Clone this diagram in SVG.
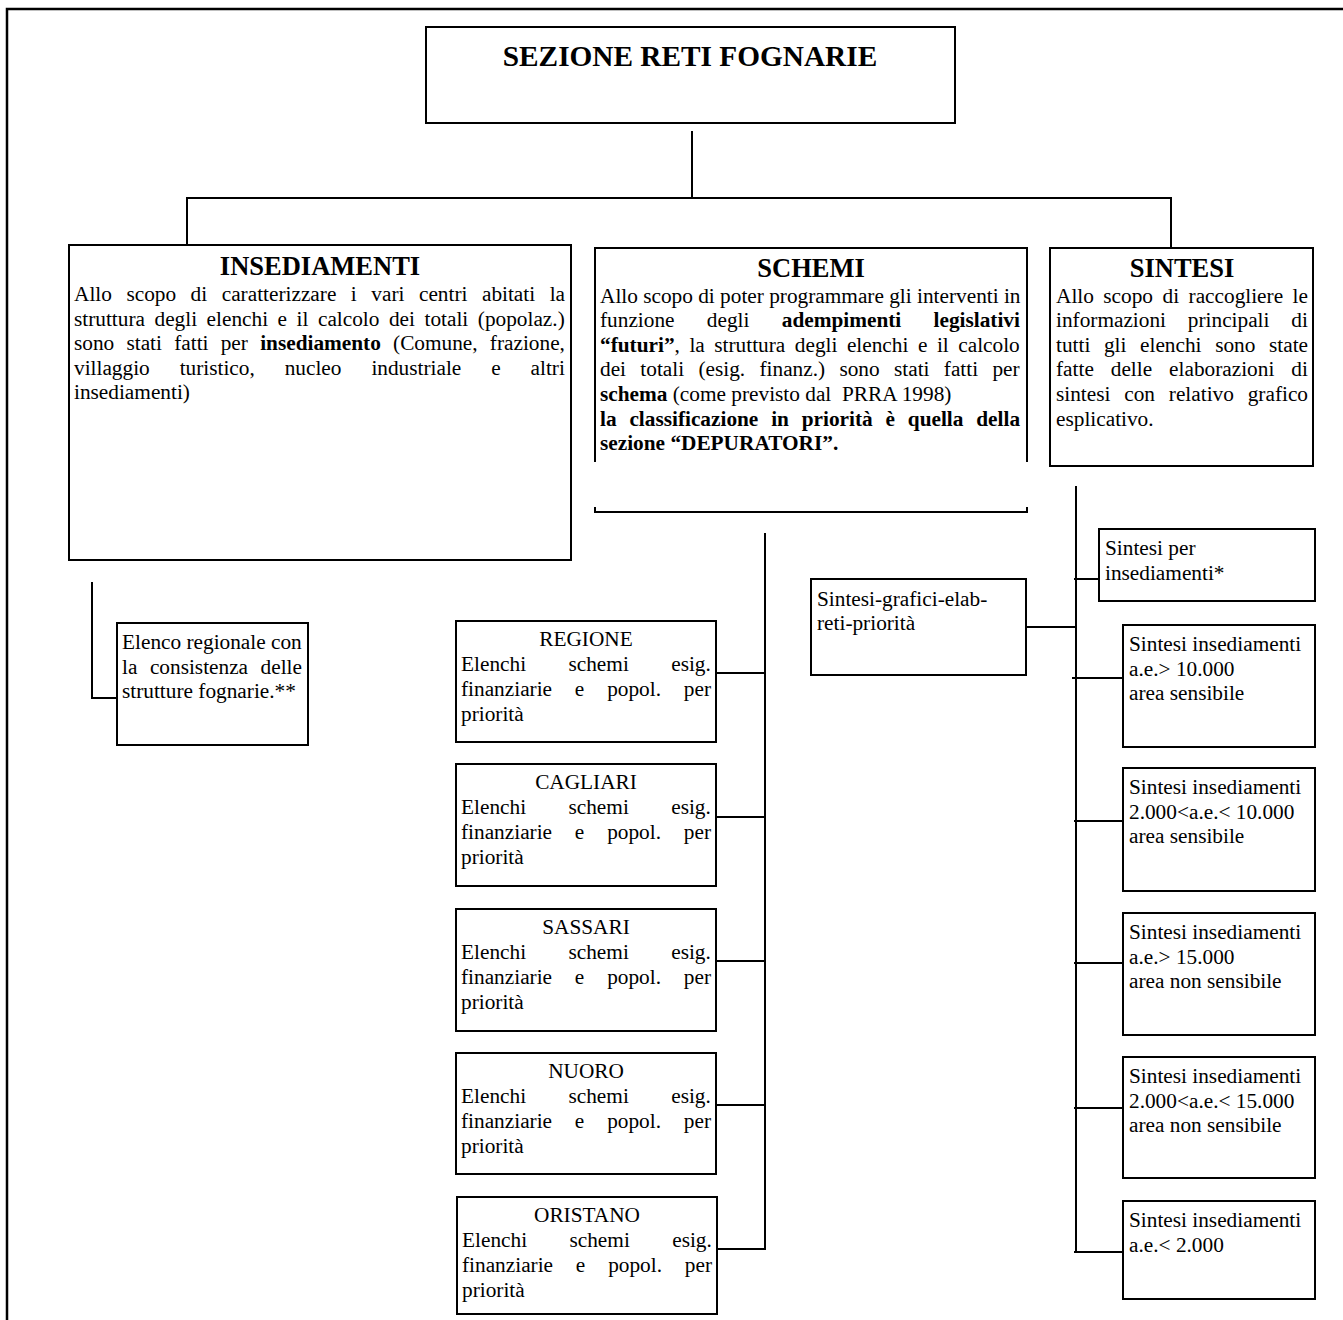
<svg xmlns="http://www.w3.org/2000/svg" width="1343" height="1320" viewBox="0 0 1343 1320">
  <style>
    .box { fill: #fff; stroke: #000; stroke-width: 2; }
    .ln { fill: none; stroke: #000; stroke-width: 2; }
    .frame { fill: none; stroke: #000; stroke-width: 2.5; }
    text { font-family: "Liberation Serif", "Times New Roman", serif; font-size: 21.3px; fill: #000; }
    .head { font-size: 26.5px; font-weight: bold; text-anchor: middle; }
    .title { font-size: 29.3px; font-weight: bold; text-anchor: middle; }
    .mid { text-anchor: middle; }
    .b { font-weight: bold; }
  </style>

  <!-- page frame -->
  <path class="frame" d="M7 1320 V9 H1343"/>

  <!-- connectors -->
  <g id="connectors">
    <path class="ln" d="M692 131 V198"/>
    <path class="ln" d="M187 247 V198 H1171 V248"/>
    <path class="ln" d="M92 582 V698 H117"/>
    <path class="ln" d="M765 533 V1250"/>
    <path class="ln" d="M716 673 H765 M716 817 H765 M716 961 H765 M716 1105 H765 M716 1249 H765"/>
    <path class="ln" d="M1076 486 V1252"/>
    <path class="ln" d="M1074 579 H1099 M1026 627 H1076"/>
    <path class="ln" d="M1072 678 H1123 M1074 821 H1123 M1074 963 H1123 M1074 1108 H1123 M1074 1252 H1123"/>
  </g>

  <g id="title">
    <rect class="box" x="426" y="27" width="529" height="96"/>
    <text class="title" x="690" y="66">SEZIONE RETI FOGNARIE</text>
  </g>

  <g id="insediamenti">
    <rect class="box" x="69" y="245" width="502" height="315"/>
    <text class="head" x="320" y="275">INSEDIAMENTI</text>
    <text x="74" y="301" style="word-spacing:9.2px">Allo scopo di caratterizzare i vari centri abitati la</text>
    <text x="74" y="325.6" style="word-spacing:4.2px">struttura degli elenchi e il calcolo dei totali (popolaz.)</text>
    <text x="74" y="350.2" style="word-spacing:6.9px">sono stati fatti per <tspan class="b">insediamento</tspan> (Comune, frazione,</text>
    <text x="74" y="374.8" style="word-spacing:24.6px">villaggio turistico, nucleo industriale e altri</text>
    <text x="74" y="399.4">insediamenti)</text>
  </g>

  <g id="schemi">
    <path class="ln" d="M595 462 V248 H1027 V462"/>
    <path class="ln" d="M595 507 V512 H1027 V507"/>
    <text class="head" x="811" y="277">SCHEMI</text>
    <text x="600" y="302.5">Allo scopo di poter programmare gli interventi in</text>
    <text x="600" y="327.1" style="word-spacing:27px">funzione degli <tspan class="b">adempimenti legislativi</tspan></text>
    <text x="600" y="351.7" style="word-spacing:4.2px"><tspan class="b">“futuri”</tspan>, la struttura degli elenchi e il calcolo</text>
    <text x="600" y="376.3" style="word-spacing:9px">dei totali (esig. finanz.) sono stati fatti per</text>
    <text x="600" y="400.9"><tspan class="b">schema</tspan> (come previsto dal&#160; PRRA 1998)</text>
    <text class="b" x="600" y="425.5" style="word-spacing:7.5px">la classificazione in priorità è quella della</text>
    <text class="b" x="600" y="450.1">sezione “DEPURATORI”.</text>
  </g>

  <g id="sintesi">
    <rect class="box" x="1050" y="248" width="263" height="218"/>
    <text class="head" x="1182" y="277">SINTESI</text>
    <text x="1056" y="302.5" style="word-spacing:4.15px">Allo scopo di raccogliere le</text>
    <text x="1056" y="327.1" style="word-spacing:16.5px">informazioni principali di</text>
    <text x="1056" y="351.7" style="word-spacing:8.3px">tutti gli elenchi sono state</text>
    <text x="1056" y="376.3" style="word-spacing:11.6px">fatte delle elaborazioni di</text>
    <text x="1056" y="400.9" style="word-spacing:8.5px">sintesi con relativo grafico</text>
    <text x="1056" y="425.5">esplicativo.</text>
  </g>

  <g id="elenco-regionale">
    <rect class="box" x="117" y="623" width="191" height="122"/>
    <text x="122" y="649">Elenco regionale con</text>
    <text x="122" y="673.5" style="word-spacing:7.2px">la consistenza delle</text>
    <text x="122" y="698">strutture fognarie.**</text>
  </g>

  <g id="regione">
    <rect class="box" x="456" y="621" width="260" height="121"/>
    <text class="mid" x="586" y="646">REGIONE</text>
    <text x="461" y="671" style="word-spacing:37.1px">Elenchi schemi esig.</text>
    <text x="461" y="696" style="word-spacing:17.5px">finanziarie e popol. per</text>
    <text x="461" y="721">priorità</text>
  </g>

  <g id="cagliari">
    <rect class="box" x="456" y="764" width="260" height="122"/>
    <text class="mid" x="586" y="789">CAGLIARI</text>
    <text x="461" y="814" style="word-spacing:37.1px">Elenchi schemi esig.</text>
    <text x="461" y="839" style="word-spacing:17.5px">finanziarie e popol. per</text>
    <text x="461" y="864">priorità</text>
  </g>

  <g id="sassari">
    <rect class="box" x="456" y="909" width="260" height="122"/>
    <text class="mid" x="586" y="934">SASSARI</text>
    <text x="461" y="959" style="word-spacing:37.1px">Elenchi schemi esig.</text>
    <text x="461" y="984" style="word-spacing:17.5px">finanziarie e popol. per</text>
    <text x="461" y="1009">priorità</text>
  </g>

  <g id="nuoro">
    <rect class="box" x="456" y="1053" width="260" height="121"/>
    <text class="mid" x="586" y="1078">NUORO</text>
    <text x="461" y="1103" style="word-spacing:37.1px">Elenchi schemi esig.</text>
    <text x="461" y="1128" style="word-spacing:17.5px">finanziarie e popol. per</text>
    <text x="461" y="1153">priorità</text>
  </g>

  <g id="oristano">
    <rect class="box" x="457" y="1197" width="260" height="117"/>
    <text class="mid" x="587" y="1222">ORISTANO</text>
    <text x="462" y="1247" style="word-spacing:37.1px">Elenchi schemi esig.</text>
    <text x="462" y="1272" style="word-spacing:17.5px">finanziarie e popol. per</text>
    <text x="462" y="1297">priorità</text>
  </g>

  <g id="sintesi-grafici">
    <rect class="box" x="811" y="579" width="215" height="96"/>
    <text x="817" y="606">Sintesi-grafici-elab-</text>
    <text x="817" y="630">reti-priorità</text>
  </g>

  <g id="sintesi-per-insediamenti">
    <rect class="box" x="1099" y="529" width="216" height="72"/>
    <text x="1105" y="555">Sintesi per</text>
    <text x="1105" y="580">insediamenti*</text>
  </g>

  <g id="sintesi-10000-sens">
    <rect class="box" x="1123" y="625" width="192" height="122"/>
    <text x="1129" y="651">Sintesi insediamenti</text>
    <text x="1129" y="675.6">a.e.&gt; 10.000</text>
    <text x="1129" y="700.2">area sensibile</text>
  </g>

  <g id="sintesi-2000-10000-sens">
    <rect class="box" x="1123" y="768" width="192" height="123"/>
    <text x="1129" y="794">Sintesi insediamenti</text>
    <text x="1129" y="818.6">2.000&lt;a.e.&lt; 10.000</text>
    <text x="1129" y="843.2">area sensibile</text>
  </g>

  <g id="sintesi-15000-nonsens">
    <rect class="box" x="1123" y="913" width="192" height="122"/>
    <text x="1129" y="939">Sintesi insediamenti</text>
    <text x="1129" y="963.6">a.e.&gt; 15.000</text>
    <text x="1129" y="988.2">area non sensibile</text>
  </g>

  <g id="sintesi-2000-15000-nonsens">
    <rect class="box" x="1123" y="1057" width="192" height="121"/>
    <text x="1129" y="1083">Sintesi insediamenti</text>
    <text x="1129" y="1107.6">2.000&lt;a.e.&lt; 15.000</text>
    <text x="1129" y="1132.2">area non sensibile</text>
  </g>

  <g id="sintesi-2000">
    <rect class="box" x="1123" y="1201" width="192" height="98"/>
    <text x="1129" y="1227">Sintesi insediamenti</text>
    <text x="1129" y="1251.6">a.e.&lt; 2.000</text>
  </g>
</svg>
